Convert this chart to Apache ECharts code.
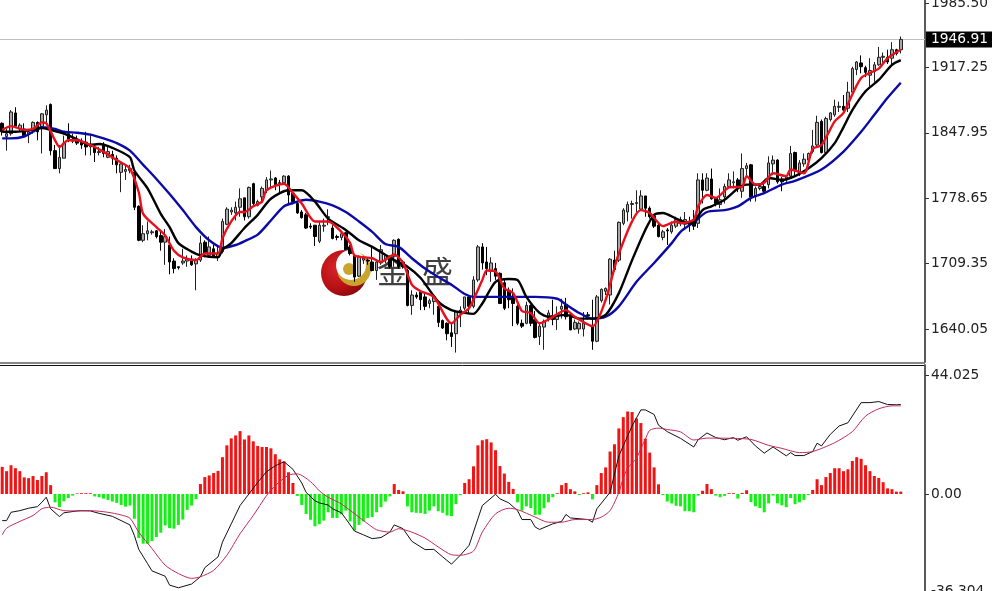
<!DOCTYPE html>
<html><head><meta charset="utf-8">
<style>html,body{margin:0;padding:0;background:#fff;overflow:hidden}#c{width:992px;height:591px}</style>
<script src="https://cdn.jsdelivr.net/npm/echarts@6/dist/echarts.min.js"></script>
</head><body><div id="c"></div>
<script>
// [open, close, low, high], one row per bar
const ohlc=[
[1858,1849,1845,1859],[1844,1847,1829,1852],[1847,1870,1845,1872],[1869,1855,1854,1875],[1852,1856,1849,1858],
[1852,1845,1844,1858],[1846,1849,1837,1852],[1852,1859,1847,1860],[1859,1849,1840,1860],[1854,1868,1826,1869],
[1867,1872,1859,1877],[1878,1829,1824,1879],[1829,1810,1810,1835],[1810,1822,1805,1835],[1821,1837,1821,1845],
[1847,1841,1838,1858],[1839,1841,1837,1847],[1840,1837,1835,1845],[1839,1835,1831,1842],[1838,1833,1824,1849],
[1833,1836,1824,1847],[1833,1827,1817,1836],[1827,1828,1824,1833],[1836,1826,1822,1838],[1822,1828,1821,1833],
[1825,1821,1814,1829],[1821,1814,1805,1824],[1806,1815,1785,1817],[1807,1809,1798,1814],[1808,1810,1805,1814],
[1806,1769,1766,1808],[1770,1734,1733,1771],[1734,1741,1732,1750],[1741,1744,1734,1754],[1742,1743,1740,1745],
[1744,1738,1736,1745],[1739,1732,1723,1745],[1732,1738,1708,1746],[1729,1711,1698,1738],[1712,1704,1699,1715],
[1706,1705,1703,1706],[1710,1712,1708,1725],[1712,1714,1706,1718],[1714,1708,1707,1718],[1709,1713,1681,1715],
[1713,1731,1711,1739],[1732,1720,1716,1734],[1718,1727,1716,1738],[1725,1717,1716,1729],[1716,1720,1712,1727],
[1722,1754,1720,1757],[1751,1767,1750,1769],[1764,1766,1761,1769],[1763,1769,1755,1775],[1769,1778,1759,1789],
[1779,1759,1755,1779],[1759,1790,1757,1791],[1794,1773,1770,1795],[1771,1775,1770,1777],[1780,1789,1775,1791],
[1787,1798,1784,1801],[1798,1799,1789,1808],[1800,1793,1787,1801],[1795,1794,1785,1798],[1795,1802,1793,1803],
[1802,1782,1773,1803],[1784,1775,1772,1785],[1773,1763,1762,1775],[1764,1758,1757,1766],[1761,1747,1746,1763],
[1749,1748,1746,1752],[1750,1738,1728,1750],[1733,1750,1731,1754],[1749,1750,1743,1757],[1758,1759,1750,1767],
[1747,1736,1735,1750],[1738,1737,1734,1740],[1737,1741,1734,1743],[1742,1724,1724,1743],[1727,1720,1718,1729],
[1718,1695,1690,1719],[1696,1717,1695,1718],[1713,1715,1709,1717],[1713,1712,1708,1715],[1711,1702,1701,1728],
[1702,1711,1692,1713],[1710,1724,1708,1729],[1713,1718,1710,1718],[1716,1706,1704,1718],[1717,1734,1706,1735],
[1735,1706,1704,1736],[1711,1706,1704,1713],[1702,1665,1664,1704],[1665,1676,1655,1681],[1676,1674,1672,1679],
[1679,1671,1660,1681],[1674,1664,1660,1679],[1667,1670,1662,1672],[1669,1674,1655,1676],[1664,1647,1642,1664],
[1649,1641,1640,1650],[1646,1635,1628,1647],[1636,1632,1621,1646],[1635,1658,1615,1660],[1657,1660,1642,1664],
[1662,1674,1660,1674],[1674,1664,1657,1676],[1664,1692,1662,1696],[1692,1727,1690,1729],[1727,1710,1703,1731],
[1711,1704,1697,1727],[1701,1710,1690,1716],[1704,1696,1692,1710],[1699,1667,1667,1700],[1689,1662,1660,1692],
[1681,1671,1662,1684],[1674,1667,1643,1683],[1664,1646,1644,1666],[1646,1643,1641,1650],[1646,1665,1645,1669],
[1665,1646,1643,1666],[1650,1631,1630,1659],[1632,1643,1623,1646],[1642,1648,1618,1650],[1651,1657,1648,1660],
[1654,1650,1644,1671],[1650,1655,1639,1664],[1661,1664,1651,1672],[1666,1653,1650,1673],[1655,1639,1639,1657],
[1640,1647,1639,1650],[1640,1646,1635,1648],[1640,1646,1632,1658],[1655,1654,1650,1658],[1642,1627,1618,1671],
[1627,1674,1626,1676],[1670,1682,1668,1683],[1680,1683,1676,1684],[1676,1714,1666,1715],[1713,1703,1701,1723],
[1713,1753,1711,1754],[1752,1766,1750,1768],[1764,1772,1754,1775],[1772,1773,1757,1776],[1773,1774,1764,1787],
[1767,1781,1766,1787],[1781,1768,1759,1781],[1768,1759,1757,1770],[1760,1749,1747,1761],[1750,1738,1737,1752],
[1737,1743,1734,1745],[1745,1744,1729,1747],[1743,1750,1741,1754],[1749,1756,1747,1759],[1752,1756,1749,1759],
[1751,1756,1745,1764],[1754,1750,1743,1759],[1756,1749,1745,1766],[1752,1798,1747,1805],[1798,1787,1773,1805],
[1787,1800,1786,1805],[1799,1778,1777,1810],[1779,1773,1770,1780],[1772,1777,1768,1789],[1780,1791,1773,1794],
[1791,1798,1789,1805],[1795,1796,1789,1807],[1798,1790,1785,1800],[1786,1810,1779,1826],[1810,1813,1802,1816],
[1814,1780,1775,1815],[1780,1789,1775,1791],[1789,1791,1787,1793],[1791,1786,1784,1796],[1793,1816,1789,1823],
[1815,1819,1803,1824],[1819,1796,1794,1820],[1799,1796,1786,1801],[1798,1801,1796,1803],[1802,1826,1800,1834],
[1827,1809,1802,1828],[1805,1816,1802,1819],[1815,1820,1812,1826],[1819,1826,1817,1827],[1828,1834,1826,1851],
[1835,1859,1833,1866],[1860,1827,1826,1862],[1827,1863,1826,1865],[1862,1869,1860,1870],[1867,1876,1865,1883],
[1875,1876,1870,1881],[1876,1872,1869,1888],[1874,1891,1870,1902],[1891,1916,1888,1918],[1915,1923,1909,1924],
[1922,1918,1911,1930],[1917,1912,1907,1919],[1909,1914,1897,1927],[1913,1920,1902,1923],[1920,1928,1919,1939],
[1928,1929,1922,1933],[1928,1923,1921,1936],[1927,1936,1920,1944],[1936,1932,1930,1937],[1936,1946.91,1932,1950]];
// moving averages read at [bar number, price]
const maRed=[[0,1851],[2,1855],[5,1851],[7,1852],[9,1859],[10,1858],[12,1840],[13,1833],[15,1840],[17,1840],[20,1835],[23,1828],[26,1819],[29,1810],[31,1785],[32,1762],[35,1748],[37,1739],[39,1723],[41,1716],[44,1713],[46,1720],[49,1720],[50,1736],[52,1754],[54,1764],[55,1764],[57,1770],[59,1775],[60,1787],[64,1794],[66,1784],[68,1773],[71,1754],[74,1754],[77,1743],[79,1731],[80,1718],[84,1715],[86,1711],[89,1719],[91,1710],[93,1687],[95,1680],[98,1674],[102,1646],[104,1655],[106,1662],[109,1692],[110,1702],[112,1701],[114,1683],[116,1678],[118,1659],[120,1657],[122,1646],[124,1650],[128,1660],[130,1653],[134,1643],[137,1671],[140,1720],[145,1766],[147,1763],[150,1749],[153,1754],[154,1752],[157,1756],[158,1770],[160,1782],[162,1779],[165,1790],[168,1791],[169,1802],[171,1793],[173,1795],[175,1805],[178,1802],[179,1809],[182,1805],[184,1831],[186,1835],[189,1860],[191,1869],[195,1906],[199,1916],[201,1927],[204,1936]];
const maBlack=[[0,1849],[3,1849],[7,1851],[9,1853],[11,1851],[14,1847],[17,1841],[20,1835],[22,1836],[25,1832],[29,1822],[30,1808],[33,1789],[36,1762],[38,1748],[40,1731],[43,1722],[45,1718],[49,1716],[50,1724],[52,1731],[55,1747],[58,1761],[61,1778],[65,1787],[68,1787],[71,1775],[74,1757],[78,1745],[81,1734],[84,1727],[89,1713],[92,1706],[95,1694],[99,1669],[102,1660],[105,1657],[107,1656],[109,1667],[112,1690],[115,1693],[117,1692],[119,1674],[122,1657],[124,1653],[128,1655],[131,1651],[134,1651],[137,1655],[140,1678],[143,1713],[146,1745],[148,1761],[150,1763],[153,1757],[156,1752],[157,1753],[159,1766],[161,1770],[164,1777],[167,1789],[169,1793],[172,1793],[174,1800],[177,1798],[180,1802],[183,1810],[186,1821],[189,1837],[191,1854],[193,1872],[196,1892],[199,1904],[202,1920],[204,1925]];
const maBlue=[[0,1842],[2,1842],[5,1844],[7,1849],[9,1854],[12,1852],[14,1849],[17,1848],[20,1846],[23,1842],[26,1837],[29,1829],[32,1814],[35,1799],[38,1783],[41,1766],[44,1748],[47,1734],[50,1726],[53,1729],[55,1733],[58,1740],[61,1755],[64,1770],[67,1775],[69,1777],[72,1775],[75,1771],[78,1764],[81,1754],[84,1743],[87,1730],[90,1727],[93,1715],[96,1704],[99,1695],[102,1687],[105,1677],[107,1674],[111,1674],[117,1674],[121,1674],[126,1672],[128,1666],[131,1657],[134,1651],[137,1653],[140,1664],[144,1690],[148,1710],[152,1731],[154,1743],[157,1753],[160,1764],[164,1766],[167,1770],[170,1779],[173,1784],[177,1793],[180,1797],[186,1809],[191,1828],[195,1849],[198,1867],[201,1885],[204,1901]];
// histogram, one value per bar
const macdBars=[10.1,8.5,10.7,9.6,8.5,6.2,5.9,6.7,5.2,6.7,8.1,3.3,-3.1,-4.9,-2.7,-1.5,-.6,.2,.3,.3,.3,-.9,-1.2,-1.7,-2.2,-2.8,-3.3,-4.1,-4.7,-4.3,-9.2,-16.4,-18.5,-18.5,-17.5,-16,-14.4,-11.7,-12.7,-12.9,-11.5,-9.5,-5.9,-4.3,-1.9,3.7,6.3,6.9,7.8,8.6,13.7,18.1,20.7,21.8,23.4,20.3,21.8,19.6,17.9,17.5,17.5,17,14.8,12.9,12.1,8.1,4.1,-.7,-4.1,-7.4,-9.6,-12,-11.2,-9.9,-6.8,-8.9,-8.9,-7.6,-6.2,-10.2,-13.6,-11.5,-10.2,-8.9,-8.6,-6.8,-4.9,-2.8,-.9,3.7,1.5,1,-4.6,-6.8,-7,-7.1,-7.4,-6.2,-4.6,-6.4,-7,-8,-8.2,-3.7,-.4,4.1,5.5,10.3,18.1,20,20.4,19.2,16.3,10.4,7.6,4.5,1.9,-3.1,-6.2,-4.6,-5.2,-7.8,-7.7,-5.3,-3.1,-1.2,.3,3.3,4.1,1.8,1,-.4,.3,.6,-2,3.3,7.8,9.9,15.8,18.5,24.4,28.6,30.7,30.5,28.1,26.4,20.6,15.4,9.9,3.6,-.4,-2.8,-3.5,-4.4,-4.6,-6.4,-6.4,-6.8,-.6,1.2,3.7,1.8,-.6,-1.2,-.7,.3,.3,-1.7,.4,1.4,-3,-4.6,-5.2,-6.8,-3.5,-.6,-3.5,-4.2,-4.9,-1.5,-3.8,-3.1,-2.2,-.4,1.5,5.5,3.3,6.3,7.8,9.6,9.6,8.5,9.2,12.3,13.7,13.1,10.7,8.5,6.7,6,4.4,2.1,1.8,.9,.9];
// oscillator lines read at [bar number, value]
const macdLine=[[0,-9.9],[1,-9.9],[2,-6.8],[4,-6.2],[6,-5.3],[8,-4.7],[9,-3.1],[10,-1.2],[11,-5.5],[13,-8.4],[14,-7],[17,-6.3],[18,-6.2],[20,-6.3],[22,-7.2],[25,-8.3],[29,-11.5],[30,-15.4],[31,-20.6],[33,-25.9],[34,-28.6],[37,-30.6],[38,-33.9],[40,-34.9],[43,-33.5],[45,-30.8],[46,-27.4],[49,-23.4],[50,-17.9],[52,-11.1],[54,-4.3],[56,0],[58,4.3],[60,8.3],[62,10.5],[64,12],[66,9.2],[68,4.1],[69,.6],[71,-2.5],[72,-3.3],[74,-4.1],[75,-5.5],[77,-7],[78,-9.2],[80,-13.8],[82,-15.2],[84,-16.6],[86,-16.2],[88,-14.2],[89,-11.5],[91,-12.9],[93,-17.6],[96,-20.7],[98,-20.6],[100,-23.4],[102,-26.1],[104,-22.8],[106,-19.1],[108,-9.2],[109,-4.3],[112,-.1],[113,-1.8],[115,-3.3],[117,-6.2],[118,-9.5],[120,-9.5],[121,-12.3],[122,-13.2],[125,-11.1],[127,-10.2],[128,-7.6],[129,-8.9],[133,-9.5],[134,-10.5],[135,-5.5],[138,.6],[140,14.2],[143,25.3],[145,31.3],[146,31.3],[148,29.6],[149,25.6],[151,23.2],[154,20.7],[157,17.5],[158,20.2],[160,22.7],[162,21],[164,20.2],[166,21],[167,20],[169,21.3],[171,17.9],[173,15.2],[175,17.5],[178,14.2],[179,15.4],[180,14.3],[182,14.3],[184,15.8],[185,18.9],[186,17.9],[188,22.2],[190,25.3],[192,26.5],[195,34],[197,34],[199,34.4],[201,33.3],[203,33.2],[204,33.3]];
const signalLine=[[0,-15.2],[1,-12.7],[4,-10.2],[7,-8],[9,-5.5],[11,-4.9],[14,-6.2],[17,-6.3],[20,-6.2],[24,-6.8],[27,-7.8],[29,-9],[31,-14.2],[34,-20.3],[37,-26.5],[40,-29.6],[43,-31.4],[45,-30.8],[48,-28.4],[51,-22.8],[54,-14.8],[57,-8],[60,-.6],[62,3.1],[65,7],[67,7.5],[70,4.6],[72,1.2],[74,-1.2],[77,-3.7],[81,-8.6],[83,-11.1],[85,-13.3],[88,-14.2],[90,-12.9],[93,-14.2],[96,-16.4],[99,-19.7],[102,-22.6],[104,-22.8],[107,-21.2],[109,-14.2],[112,-7.4],[115,-5.3],[117,-5.8],[121,-8.6],[124,-10.5],[127,-10.5],[130,-9.5],[134,-9.5],[136,-8.6],[138,-6.2],[140,.6],[141,5.9],[142,9.6],[144,13.3],[145,17],[146,20.3],[147,23.7],[149,24.5],[151,24],[154,23.1],[157,20.1],[160,20.8],[166,20.7],[170,20.3],[174,18.1],[177,17],[181,15.4],[184,15.8],[189,19.1],[193,23.2],[196,29],[199,31.7],[202,32.8],[204,32.8]];
const priceTicks=[1640.05,1709.35,1778.65,1847.95,1917.25,1985.50];
const macdTicks=[-36.304,0,44.025];
const lastPrice=1946.91;
const categories=Array.from({length:210},(_,i)=>i);

const font='"DejaVu Sans"';
const axisStyle=(ticks,fmt)=>({type:'value',position:'right',scale:true,
  axisLine:{show:true,onZero:false,lineStyle:{color:'#5a5a5a',width:2}},
  axisTick:{show:true,length:4,customValues:ticks,lineStyle:{color:'#333'}},
  axisLabel:{show:true,customValues:ticks,formatter:fmt,color:'#222',fontFamily:font,fontSize:13.8,margin:6,padding:[6,0,0,0],hideOverlap:false},
  splitLine:{show:false}});
const thin=(name,data,color,w,x,y,s)=>({name,type:'line',xAxisIndex:x,yAxisIndex:y,data,symbol:'none',smooth:s,z:5,
  lineStyle:{color,width:w},itemStyle:{color}});

const chart=echarts.init(document.getElementById('c'),null,{renderer:'canvas'});
chart.setOption({
  animation:false,backgroundColor:'#fff',
  grid:[{left:0,top:0,width:925,height:362,outerBoundsMode:'none'},{left:0,top:365,width:925,height:240,outerBoundsMode:'none'}],
  xAxis:[{type:'category',gridIndex:0,data:categories,show:false},{type:'category',gridIndex:1,data:categories,show:false}],
  yAxis:[
    Object.assign(axisStyle(priceTicks,v=>v.toFixed(2)),{gridIndex:0,min:1605,max:1988.7}),
    Object.assign(axisStyle(macdTicks,v=>v===0?'0.00':v.toFixed(3)),{gridIndex:1,min:-41.3,max:48})
  ],
  graphic:[
    {type:'line',z:0,shape:{x1:0,y1:363,x2:925,y2:363},style:{stroke:'#111',lineWidth:1}},
    {type:'line',z:0,shape:{x1:0,y1:365.5,x2:925,y2:365.5},style:{stroke:'#111',lineWidth:1}},
    {type:'circle',z:0,shape:{cx:344,cy:273,r:23},style:{fill:new echarts.graphic.RadialGradient(.35,.4,.75,[{offset:0,color:'#d8262a'},{offset:.6,color:'#b40f14'},{offset:1,color:'#7a0608'}])}},
    {type:'circle',z:0,shape:{cx:354,cy:269,r:17},style:{fill:'#c9a52e'}},
    {type:'circle',z:0,shape:{cx:351,cy:265,r:15},style:{fill:'#fff'}},
    {type:'circle',z:0,shape:{cx:349,cy:269,r:6},style:{fill:'#c9a52e'}},
    {type:'text',z:0,left:377,top:256,style:{text:'金',font:'31px "Noto Sans CJK SC"',fill:'#404040'}},
    {type:'text',z:0,left:422,top:256,style:{text:'盛',font:'31px "Noto Sans CJK SC"',fill:'#404040'}}
  ],
  series:[
    {name:'Price',type:'candlestick',xAxisIndex:0,yAxisIndex:0,data:ohlc,barWidth:3,z:3,
     itemStyle:{color:'#a8a8a8',color0:'#000',borderColor:'#222',borderColor0:'#000',borderWidth:1},
     markLine:{silent:true,symbol:'none',z:1,precision:2,
       lineStyle:{color:'#c0c0c0',width:1,type:'solid'},
       label:{position:'end',distance:1,formatter:'1946.91',color:'#fff',backgroundColor:'#000',fontFamily:font,fontSize:13.8,lineHeight:14,padding:[1,5,1,5]},
       data:[{yAxis:lastPrice}]}},
    thin('MA slow',maBlue,'#0a0aa8',2.4,0,0,.25),
    thin('MA mid',maBlack,'#000',2.4,0,0,.25),
    thin('MA fast',maRed,'#e8101c',2.4,0,0,.25),
    {name:'MACD',type:'bar',xAxisIndex:1,yAxisIndex:1,data:macdBars,barWidth:3,z:3,
     itemStyle:{color:p=>p.value>=0?'#f01414':'#14f014'}},
    thin('MACD line',macdLine,'#111',1,1,1,false),
    thin('Signal',signalLine,'#c42a5c',1,1,1,.25)
  ]
});
</script></body></html>
